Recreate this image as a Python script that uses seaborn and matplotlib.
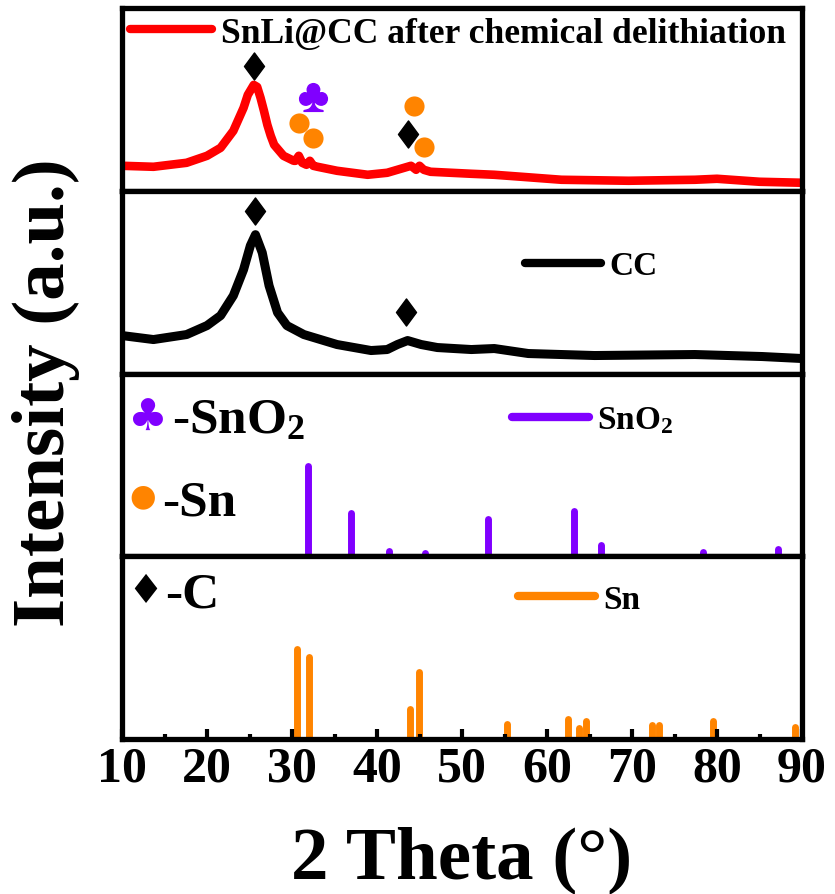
import numpy as np
import pandas as pd
import matplotlib
matplotlib.use("Agg")
import matplotlib.pyplot as plt
import seaborn as sns
from matplotlib.lines import Line2D
from matplotlib.path import Path
from matplotlib.markers import MarkerStyle
from matplotlib.ticker import MultipleLocator

# ---------------- data ----------------
two_theta_red = [10.0, 13.7, 17.6, 20.0, 21.6, 23.1, 24.3, 24.8, 25.5, 25.9, 26.3, 26.7,
                 27.1, 27.5, 27.9, 29.0, 30.2, 30.4, 30.8, 31.2, 31.7, 32.1, 32.5, 33.0,
                 35.3, 38.9, 41.2, 42.8, 44.0, 44.6, 45.0, 45.5, 46.3, 51.1, 53.8, 57.0,
                 61.7, 69.6, 77.4, 80.0, 85.0, 90.0]
intensity_red = [25, 24, 28, 35, 43, 60, 83, 96, 106, 104, 93, 80,
                 66, 55, 46, 35, 30, 30, 35, 28, 26, 30, 25, 24,
                 20, 16, 18, 22, 25, 21, 25, 21, 19, 17, 16, 14,
                 11, 10, 11, 12, 9, 8]

two_theta_cc = [10.0, 13.7, 17.6, 20.0, 21.6, 23.1, 24.3, 25.1, 25.7, 26.5, 27.3, 28.3,
                29.4, 31.4, 35.3, 39.3, 41.2, 42.4, 43.6, 45.2, 47.1, 51.1, 53.8, 57.8,
                65.6, 77.4, 85.3, 90.0]
intensity_cc = [38, 34, 39, 48, 58, 78, 104, 128, 139, 121, 88, 61,
                48, 39, 29, 23, 24, 29, 33, 29, 26, 24, 25, 20,
                18, 19, 17, 15]

sno2_pos = [31.9, 36.9, 41.4, 45.6, 53.1, 63.2, 66.4, 78.4, 87.2]
sno2_int = [90, 43, 5, 3, 37, 45, 11, 4, 7]

sn_pos = [30.6, 32.0, 43.9, 44.9, 55.3, 62.5, 63.8, 64.6, 72.3, 73.2, 79.5, 89.2]
sn_int = [90, 82, 30, 67, 15, 20, 11, 18, 14, 14, 18, 12]

# peak markers
red_diamond_x = [25.5, 43.6]
red_diamond_y = [125, 57]
red_club_x = [32.5]
red_club_y = [94]
red_circle_x = [30.8, 32.45, 44.4, 45.5]
red_circle_y = [68, 53, 85, 44]
cc_diamond_x = [25.7, 43.4]
cc_diamond_y = [163, 62]

x_ticks = [10, 20, 30, 40, 50, 60, 70, 80, 90]

label_red = "SnLi@CC after chemical delithiation"
label_cc = "CC"
label_sno2 = "SnO$_2$"
label_sn = "Sn"

RED = "#FF0000"
PURPLE = "#8000FF"
ORANGE = "#FF8400"

# ---------------- style ----------------
sns.set_theme(style="ticks")
plt.rcParams["font.family"] = ["Liberation Serif", "DejaVu Sans"]
plt.rcParams["font.weight"] = "bold"
plt.rcParams["text.color"] = "black"
plt.rcParams["axes.labelcolor"] = "black"
plt.rcParams["xtick.color"] = "black"
plt.rcParams["xtick.labelcolor"] = "black"
plt.rcParams["mathtext.fontset"] = "custom"
plt.rcParams["mathtext.rm"] = "Liberation Serif:bold"
plt.rcParams["mathtext.it"] = "Liberation Serif:bold"
plt.rcParams["mathtext.bf"] = "Liberation Serif:bold"
plt.rcParams["mathtext.default"] = "rm"

W, H = 835, 895
fig = plt.figure(figsize=(W / 100, H / 100), dpi=100)
gs = fig.add_gridspec(4, 1, left=122 / W, right=802 / W, top=1 - 9 / H,
                      bottom=1 - 740 / H, hspace=0)
axes = [fig.add_subplot(gs[i]) for i in range(4)]

diamond = MarkerStyle(Path([(0, 1), (0.74, 0), (0, -1), (-0.74, 0), (0, 1)],
                           [Path.MOVETO, Path.LINETO, Path.LINETO, Path.LINETO, Path.CLOSEPOLY]))

for ax in axes:
    ax.set_xlim(10, 90)
    ax.set_ylim(0, 183)
    ax.set_yticks([])
    for s in ax.spines.values():
        s.set_linewidth(3.8)
        s.set_color("black")

# ticks (set up before plotting)
for ax in axes[:3]:
    ax.tick_params(axis="x", which="both", bottom=False, top=False, labelbottom=False)
axb = axes[3]
axb.set_xticks(x_ticks)
axb.xaxis.set_minor_locator(MultipleLocator(5))
axb.tick_params(axis="x", which="major", direction="in", length=7, width=3,
                bottom=True, top=False, labelsize=36, pad=5, color="black")
axb.tick_params(axis="x", which="minor", direction="in", length=3.3, width=3,
                bottom=True, top=False, color="black")
axb.xaxis.set_zorder(5)

# panel 1: red pattern
df_red = pd.DataFrame({"2theta": two_theta_red, "I": intensity_red})
sns.lineplot(data=df_red, x="2theta", y="I", ax=axes[0], color=RED, lw=6.2,
             sort=False, estimator=None, legend=False)
axes[0].plot(red_diamond_x, red_diamond_y, ls="none", marker=diamond, ms=19.5, color="black")
axes[0].plot(red_club_x, red_club_y, ls="none", marker=r"$\clubsuit$", ms=20, color=PURPLE)
axes[0].plot(red_circle_x, red_circle_y, ls="none", marker="o", ms=14.5, color=ORANGE, mec="none")

# panel 2: CC
df_cc = pd.DataFrame({"2theta": two_theta_cc, "I": intensity_cc})
sns.lineplot(data=df_cc, x="2theta", y="I", ax=axes[1], color="black", lw=6.5,
             sort=False, estimator=None, legend=False)
axes[1].plot(cc_diamond_x, cc_diamond_y, ls="none", marker=diamond, ms=19.5, color="black")

# panel 3 / 4: reference sticks
axes[2].vlines(sno2_pos, 0, sno2_int, color=PURPLE, lw=5, capstyle="round")
axes[3].vlines(sn_pos, 0, sn_int, color=ORANGE, lw=5, capstyle="round")

# legends
def add_leg(ax, color, label, xy, fs):
    h = Line2D([], [], color=color, lw=6, solid_capstyle="round")
    leg = ax.legend([h], [label], loc="center left", bbox_to_anchor=xy, frameon=False,
                    handlelength=2.3, handletextpad=0.25, borderpad=0,
                    borderaxespad=0, prop={"weight": "bold", "size": fs})
    for t in leg.get_texts():
        t.set_color("black")

add_leg(axes[0], RED, label_red, (0.012, 0.862), 25.6)
add_leg(axes[1], "black", label_cc, (0.592, 0.59), 24)
add_leg(axes[2], PURPLE, label_sno2, (0.574, 0.745), 24)
add_leg(axes[3], ORANGE, label_sn, (0.583, 0.764), 24)

# key symbols
axes[2].text(0.036, 0.758, "\u2663", transform=axes[2].transAxes, fontsize=32,
             family="DejaVu Sans", color=PURPLE, ha="center", va="center")
axes[2].text(0.074, 0.681, "-SnO$_2$", transform=axes[2].transAxes, fontsize=37,
             fontweight="bold", ha="left", va="baseline", color="black")
axes[2].text(0.031, 0.33, "\u25CF", transform=axes[2].transAxes, fontsize=22,
             family="DejaVu Sans", color=ORANGE, ha="center", va="center")
axes[2].text(0.059, 0.231, "-Sn", transform=axes[2].transAxes, fontsize=37,
             fontweight="bold", ha="left", va="baseline", color="black")
axes[3].text(0.034, 0.808, "\u2666", transform=axes[3].transAxes, fontsize=29,
             family="DejaVu Sans", color="black", ha="center", va="center")
axes[3].text(0.063, 0.725, "-C", transform=axes[3].transAxes, fontsize=37,
             fontweight="bold", ha="left", va="baseline", color="black")

for ax in axes:
    ax.set_xlabel("")
    ax.set_ylabel("")
for lab in axb.get_xticklabels():
    lab.set_fontweight("bold")
    lab.set_color("black")

fig.text(462 / W, 1 - 878 / H, "2 Theta (°)", fontsize=54, fontweight="bold",
         ha="center", va="baseline", color="black")
fig.text(46 / W, 1 - 393 / H, "Intensity (a.u.)", fontsize=54, fontweight="bold",
         ha="center", va="center", rotation=90, color="black")

fig.savefig("out.png", dpi=100, facecolor="white")
